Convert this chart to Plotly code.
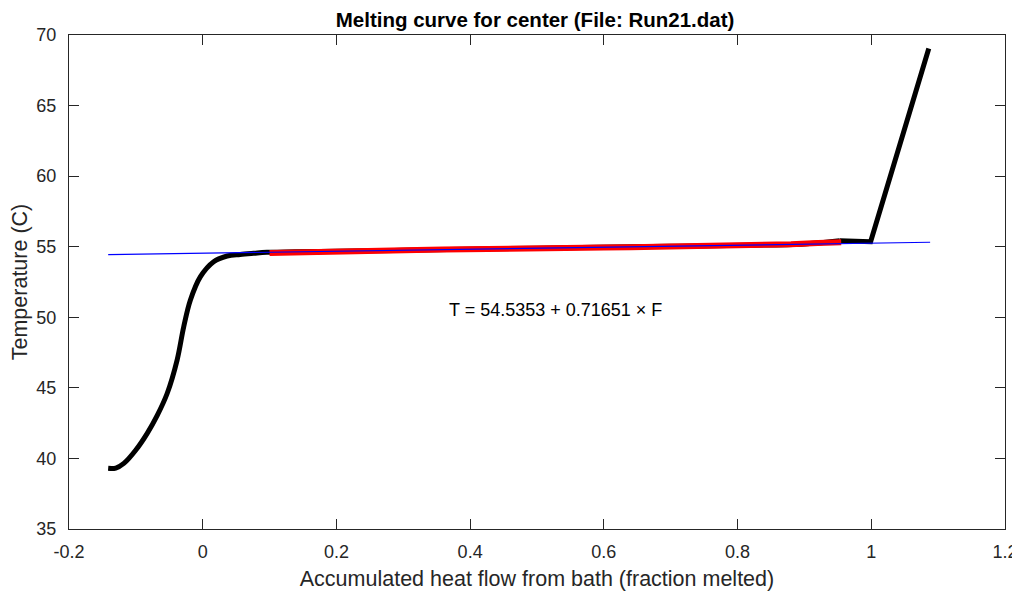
import plotly.graph_objects as go

# Black measured curve (fraction melted F, temperature T)
black_F = [-0.1414, -0.130, -0.118, -0.100, -0.083, -0.068, -0.0532, -0.0383, -0.0284,
           -0.0184, -0.0034, 0.0164, 0.0365, 0.0560, 0.0762, 0.096, 0.30, 0.50, 0.70,
           0.90, 0.953]
black_T = [39.30, 39.32, 39.65, 40.60, 41.78, 43.05, 44.60, 46.97, 49.33,
           51.22, 52.88, 53.94, 54.34, 54.45, 54.53, 54.60, 54.75, 54.90, 55.03,
           55.20, 55.42]
# Black end segment (plateau and heating of liquid)
tail_F = [0.953, 0.975, 0.990, 0.999, 1.086]
tail_T = [55.42, 55.42, 55.40, 55.35, 69.05]

# Red portion used for the fit
red_F = [0.100, 0.130, 0.160, 0.200, 0.240, 0.280, 0.320, 0.360, 0.400, 0.440,
         0.480, 0.520, 0.560, 0.600, 0.640, 0.680, 0.720, 0.760, 0.800, 0.840,
         0.880, 0.920, 0.955]
red_T = [54.56, 54.60, 54.66, 54.70, 54.73, 54.76, 54.77, 54.80, 54.84, 54.86,
         54.88, 54.90, 54.93, 54.95, 54.97, 54.99, 55.03, 55.06, 55.09, 55.13,
         55.18, 55.26, 55.32]

# Linear fit
fit_a = 54.5353
fit_b = 0.71651
fit_F = [-0.1414, 1.088]
fit_T = [fit_a + fit_b * f for f in fit_F]

x_ticks = [-0.2, 0, 0.2, 0.4, 0.6, 0.8, 1, 1.2]
x_tick_text = ["-0.2", "0", "0.2", "0.4", "0.6", "0.8", "1", "1.2"]
y_ticks = [35, 40, 45, 50, 55, 60, 65, 70]

FONT = "Liberation Sans, Arial, Helvetica"
AXC = "#262626"

fig = go.Figure()
fig.add_trace(go.Scatter(x=black_F, y=black_T, mode="lines",
                         line=dict(color="black", width=5, shape="spline", smoothing=1.0),
                         showlegend=False))
fig.add_trace(go.Scatter(x=tail_F, y=tail_T, mode="lines",
                         line=dict(color="black", width=5),
                         showlegend=False))
fig.add_trace(go.Scatter(x=red_F, y=red_T, mode="lines",
                         line=dict(color="#ff0000", width=6),
                         showlegend=False))
fig.add_trace(go.Scatter(x=fit_F, y=fit_T, mode="lines",
                         line=dict(color="#0000ff", width=1.2),
                         showlegend=False))

fig.add_annotation(x=0.527, y=50.55, xref="x", yref="y",
                   text="T = 54.5353 + 0.71651 \u00d7 F", showarrow=False,
                   font=dict(family=FONT, size=18, color="black"))

axis_common = dict(showgrid=False, zeroline=False, showline=True, linecolor=AXC,
                   linewidth=1, mirror="ticks", ticks="inside", ticklen=10,
                   tickcolor=AXC, automargin=False,
                   tickfont=dict(family=FONT, size=18, color=AXC))

fig.update_xaxes(range=[-0.2, 1.2], tickvals=x_ticks, ticktext=x_tick_text,
                 ticklabelstandoff=6,
                 title=dict(text="Accumulated heat flow from bath (fraction melted)",
                            font=dict(family=FONT, size=21.5, color=AXC),
                            standoff=10),
                 **axis_common)
fig.update_yaxes(range=[35, 70], tickvals=y_ticks,
                 ticklabelstandoff=8,
                 title=dict(text="Temperature (C)",
                            font=dict(family=FONT, size=21.5, color=AXC),
                            standoff=2),
                 **axis_common)

# The page body adds an 8 px offset, so the figure is 8 px smaller each way
fig.update_layout(
    width=1012, height=584,
    margin=dict(l=61, r=15, t=27, b=63),
    plot_bgcolor="white", paper_bgcolor="white",
    title=dict(text="<b>Melting curve for center (File: Run21.dat)</b>",
               x=0.5208, xanchor="center", y=0.9805, yanchor="middle",
               font=dict(family=FONT, size=20.5, color="black")),
)

fig.write_html("out.html")
